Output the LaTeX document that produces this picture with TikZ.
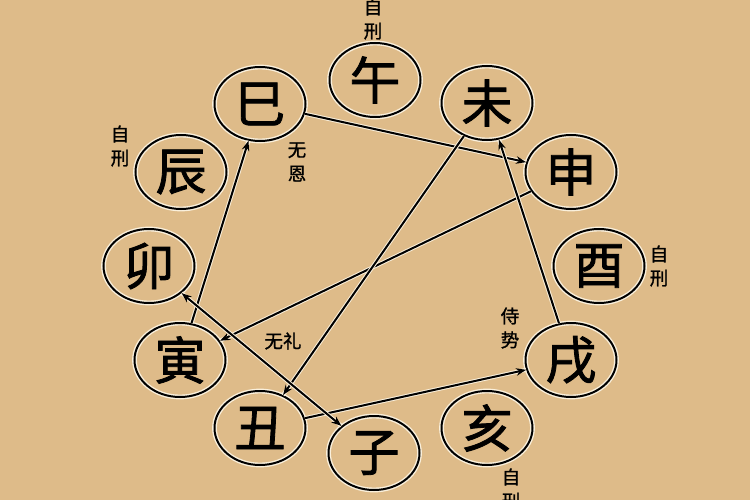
\documentclass[tikz,border=0pt]{standalone}
\usepackage{fontspec}
\newfontfamily\cjk[FakeBold=1.6]{Noto Sans CJK SC}
\newfontfamily\cjksmall[FakeBold=1.2]{Noto Sans CJK SC}
\usetikzlibrary{shapes.geometric,arrows.meta}
\definecolor{bgtan}{RGB}{222,187,137}
\definecolor{halo}{RGB}{250,240,220}
\tikzset{
  branch/.style={ellipse, draw=black, line width=2pt, minimum width=91pt, minimum height=74pt, inner sep=0pt,
    preaction={draw=halo, line width=4.8pt},
    font=\cjk\fontsize{51}{51}\selectfont},
  note/.style={font=\cjksmall\fontsize{18.5}{24}\selectfont, align=center, inner sep=0pt},
  link/.style={line width=2pt, draw=black, -{Stealth[length=10pt,width=7.5pt]},
    preaction={draw=halo, line width=4pt, -}},
  dlink/.style={link, {Stealth[length=10pt,width=7.5pt]}-{Stealth[length=10pt,width=7.5pt]}}
}
\begin{document}
\begin{tikzpicture}[x=1pt,y=-1pt]
\fill[bgtan] (0,0) rectangle (750,500);
\useasboundingbox (0,0) rectangle (750,500);

\node[branch] (wu)   at (375,80)  {午};
\node[branch] (wei)  at (487,103) {未};
\node[branch] (si)   at (260,104) {巳};
\node[branch] (shen) at (571,172) {申};
\node[branch] (chen) at (181,172) {辰};
\node[branch] (mao)  at (149,266) {卯};
\node[branch] (you)  at (599,266) {酉};
\node[branch] (yin)  at (180,360) {寅};
\node[branch] (xu)   at (571,360) {戌};
\node[branch] (chou) at (260,428) {丑};
\node[branch] (zi)   at (374,453) {子};
\node[branch] (hai)  at (487,428) {亥};

\node[note] (n1) at (373,19)  {自\\刑};
\node[note] (n2) at (120,146) {自\\刑};
\node[note] (n3) at (297,162) {无\\恩};
\node[note] (n4) at (659,266) {自\\刑};
\node[note] (n5) at (510,328) {侍\\势};
\node[note] (n6) at (283,341) {无礼};
\node[note] (n7) at (511,489) {自\\刑};

\draw[link] (yin) -- (si);
\draw[link] (si) -- (shen);
\draw[link] (shen) -- (yin);
\draw[link] (wei) -- (chou);
\draw[link] (chou) -- (xu);
\draw[link] (xu) -- (wei);
\draw[dlink] (mao) -- (zi);
\end{tikzpicture}
\end{document}
